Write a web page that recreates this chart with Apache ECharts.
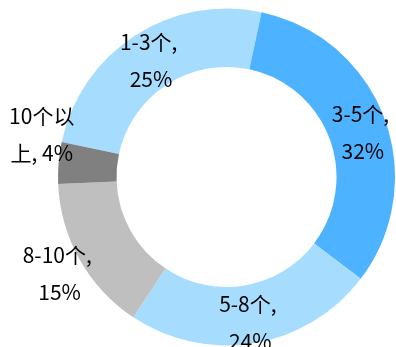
<!DOCTYPE html>
<html>
<head>
<meta charset="utf-8">
<script src="https://cdn.jsdelivr.net/npm/echarts@6/dist/echarts.min.js"></script>
<style>
  html, body { margin: 0; padding: 0; background: #fff; }
  #chart { width: 396px; height: 347px; }
</style>
</head>
<body>
<div id="chart"></div>
<script>
// Share of items by count bucket
const categories = ['1-3个', '3-5个', '5-8个', '8-10个', '10个以上'];
const shares = [25, 32, 24, 15, 4];

const sliceColors = ['#A6DDFF', '#4DB2FF', '#A6DDFF', '#BFBFBF', '#808080'];
// nudges for labels that sit outside the ring
const labelNudge = [[2, 3], [3, 5], [0, 5], [-43, 27], [-43, -31]];

const chart = echarts.init(document.getElementById('chart'), null, { renderer: 'canvas' });

chart.setOption({
  animation: false,
  series: [{
    type: 'pie',
    center: ['57.2%', '51%'],
    radius: [110, 168.5],
    startAngle: 168,
    clockwise: true,
    avoidLabelOverlap: false,
    label: {
      show: true,
      position: 'inside',
      color: '#000',
      fontFamily: '"Noto Sans CJK SC", sans-serif',
      fontSize: 21,
      lineHeight: 37,
      width: 74,
      overflow: 'break',
      align: 'center',
      formatter: p => p.name + ', ' + p.value + '%'
    },
    labelLine: { show: false },
    data: categories.map((name, i) => ({
      name,
      value: shares[i],
      itemStyle: { color: sliceColors[i] },
      label: { offset: labelNudge[i] }
    }))
  }]
});
</script>
</body>
</html>
